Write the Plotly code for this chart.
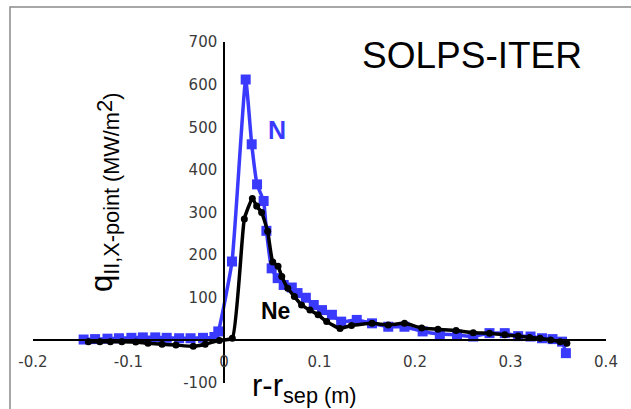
import plotly.graph_objects as go

# ---- data ----
n_x = [-0.147, -0.135, -0.122, -0.110, -0.097, -0.085, -0.072, -0.060, -0.047, -0.035, -0.022, -0.010,
       -0.006, 0.0084, 0.0227, 0.029, 0.0346, 0.0415, 0.0444, 0.0499, 0.0562, 0.0625, 0.071, 0.077,
       0.0857, 0.094, 0.1026, 0.113, 0.1227, 0.139, 0.155, 0.172, 0.189, 0.208, 0.226, 0.244, 0.261,
       0.278, 0.294, 0.308, 0.321, 0.333, 0.344, 0.354, 0.358]
n_y = [2, 3, 4, 5, 6, 7, 7, 6, 5, 5, 6, 8,
       21, 185, 612, 460, 366, 327, 257, 169, 146, 130, 124, 111,
       100, 83, 71, 60, 44, 48, 40, 32, 32, 21, 15, 13, 9,
       17, 17, 10, 9, 5, 3, -3, -30]

ne_x = [-0.142, -0.130, -0.119, -0.107, -0.0924, -0.0796, -0.0649, -0.0503, -0.0322, -0.0197, -0.0049,
        0.0087, 0.0213, 0.0297, 0.0342, 0.0394, 0.0457, 0.051, 0.0566, 0.0605, 0.0668, 0.0737, 0.0812,
        0.090, 0.0985, 0.1075, 0.1215, 0.1335, 0.155, 0.172, 0.189, 0.207, 0.224, 0.243, 0.261, 0.278,
        0.294, 0.308, 0.320, 0.331, 0.342, 0.352, 0.359]
ne_y = [-3, -3, -3, -3, -4, -7, -9, -11, -14, -9, 0,
        5, 285, 333, 315, 300, 256, 184, 174, 150, 122, 103, 83,
        71, 60, 44, 28, 35, 40, 36, 40, 29, 26, 23, 18, 17,
        13, 10, 7, 5, 1, -3, -7]

x_ticks = [-0.2, -0.1, 0, 0.1, 0.2, 0.3, 0.4]
x_ticktext = ["-0.2", "-0.1", "0", "0.1", "0.2", "0.3", "0.4"]
y_ticks = [-100, 100, 200, 300, 400, 500, 600, 700]
y_ticktext = ["-100", "100", "200", "300", "400", "500", "600", "700"]

BLUE = "#3a3aff"
X_RANGE = [-0.2, 0.4]
Y_RANGE = [-100, 700]

fig = go.Figure()
fig.add_trace(go.Scatter(
    x=n_x, y=n_y, mode="lines+markers",
    line=dict(color=BLUE, width=3.5, shape="spline", smoothing=0.4),
    marker=dict(symbol="square", size=10, color=BLUE),
    showlegend=False, cliponaxis=False))
fig.add_trace(go.Scatter(
    x=ne_x, y=ne_y, mode="lines+markers",
    line=dict(color="black", width=3.5, shape="spline", smoothing=0.4),
    marker=dict(symbol="circle", size=7, color="black"),
    showlegend=False, cliponaxis=False))

tickfont = dict(family="DejaVu Sans", size=15, color="#3a3a3a")
CLEAR = "rgba(0,0,0,0)"

fig.update_layout(
    width=631, height=409,
    margin=dict(l=33, r=25, t=42, b=26),
    paper_bgcolor="white", plot_bgcolor="white",
    # main axes: carry the labels (transparent outside ticks push labels away from the line)
    xaxis=dict(range=X_RANGE, tickmode="array", tickvals=x_ticks, ticktext=x_ticktext,
               ticks="outside", ticklen=8, tickcolor=CLEAR,
               showline=True, linecolor="black", linewidth=1.5,
               showgrid=False, zeroline=False,
               anchor="free", position=0.125, tickfont=tickfont),
    yaxis=dict(range=Y_RANGE, tickmode="array", tickvals=y_ticks, ticktext=y_ticktext,
               ticks="outside", ticklen=3, tickcolor=CLEAR,
               showline=True, linecolor="black", linewidth=1.5,
               showgrid=False, zeroline=False,
               anchor="free", position=1/3, tickfont=tickfont),
    # overlay axes: draw the inside tick marks
    xaxis2=dict(range=X_RANGE, overlaying="x", tickmode="array", tickvals=x_ticks,
                ticks="inside", ticklen=5, tickwidth=1.5, tickcolor="black",
                showticklabels=False, showline=False, showgrid=False, zeroline=False,
                anchor="free", position=0.125),
    yaxis2=dict(range=Y_RANGE, overlaying="y", tickmode="array", tickvals=y_ticks,
                ticks="inside", ticklen=5, tickwidth=1.5, tickcolor="black",
                showticklabels=False, showline=False, showgrid=False, zeroline=False,
                anchor="free", position=1/3),
)

# outer frame
fig.add_shape(type="rect", xref="paper", yref="paper",
              x0=(10 - 33) / 573, x1=1.2, y0=-0.3, y1=1 + (42 - 7) / 341,
              line=dict(color="#8a8a8a", width=1.5), layer="below")

fig.add_annotation(x=0.2597, y=669, xref="x", yref="y", text="SOLPS-ITER",
                   showarrow=False, font=dict(family="Liberation Sans", size=37, color="black"),
                   xanchor="center", yanchor="middle")
fig.add_annotation(x=0.0555, y=493, xref="x", yref="y", text="<b>N</b>",
                   showarrow=False, font=dict(family="Liberation Sans", size=25, color=BLUE),
                   xanchor="center", yanchor="middle")
fig.add_annotation(x=0.0534, y=69, xref="x", yref="y", text="<b>Ne</b>",
                   showarrow=False, font=dict(family="Liberation Sans", size=23, color="black"),
                   xanchor="center", yanchor="middle")

# axis titles
fig.add_annotation(x=(104 - 33) / 573, y=(383 - 193) / 341, xref="paper", yref="paper",
                   text="q<sub>II,X-point (MW/m</sub><span style='font-size:22px'>2</span><sub>)</sub>",
                   textangle=-90, showarrow=False,
                   font=dict(family="Liberation Sans", size=31, color="black"),
                   xanchor="center", yanchor="middle")
fig.add_annotation(x=(304 - 33) / 573, y=(383 - 388) / 341, xref="paper", yref="paper",
                   text="r-r<sub>sep (m)</sub>", showarrow=False,
                   font=dict(family="Liberation Sans", size=31, color="black"),
                   xanchor="center", yanchor="middle")

fig.write_html("out.html")
